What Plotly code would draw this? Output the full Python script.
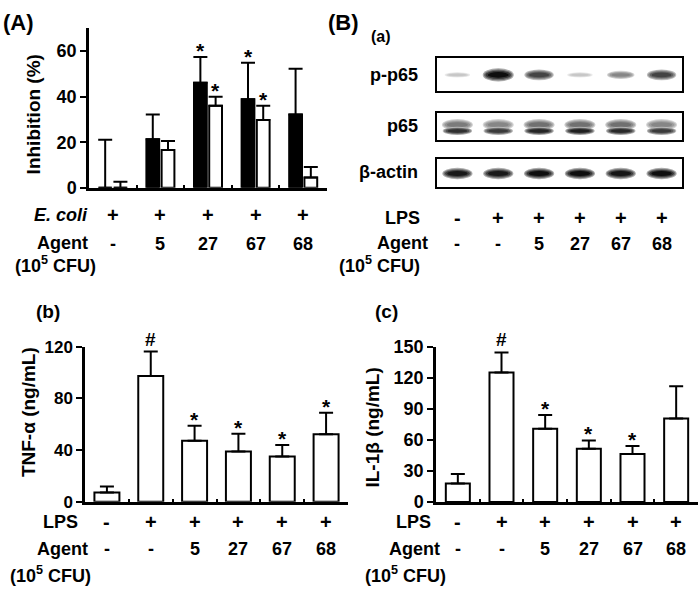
import plotly.graph_objects as go

# ---------------- DATA ----------------
# Panel A: inhibition (%)
agent_A = ["-", "5", "27", "67", "68"]
ecoli_A = ["+", "+", "+", "+", "+"]
inhib_black = [0, 21.3, 46.1, 38.9, 32.2]
inhib_black_err = [21.1, 10.9, 11.3, 16.0, 20.1]
inhib_white = [0, 16.6, 36.0, 29.8, 4.5]
inhib_white_err = [2.7, 4.0, 4.0, 6.2, 4.6]
sig_black = ["", "", "*", "*", ""]
sig_white = ["", "", "*", "*", ""]

# Panels B(b), B(c)
lps = ["-", "+", "+", "+", "+", "+"]
agent_B = ["-", "-", "5", "27", "67", "68"]
tnf = [7.0, 97.2, 47.1, 38.9, 34.9, 52.1]
tnf_err = [4.8, 19.0, 11.7, 13.7, 9.0, 16.7]
sig_tnf = ["", "#", "*", "*", "*", "*"]
il1b = [17.7, 125.0, 70.7, 51.3, 46.4, 80.6]
il1b_err = [9.3, 19.4, 13.3, 8.1, 7.7, 31.1]
sig_il1b = ["", "#", "*", "*", "*", ""]

# Panel B(a): western blot band intensities (0..1)
blot_rows = ["p-p65", "p65", "β-actin"]
pp65_level = [0.15, 1.0, 0.75, 0.15, 0.45, 0.75]
p65_upper_level = [0.5, 0.45, 0.55, 0.55, 0.55, 0.45]
p65_lower_level = [0.85, 0.8, 0.9, 0.92, 0.88, 0.8]
actin_level = [0.95, 0.95, 1.0, 1.0, 0.97, 1.0]

# ---------------- STYLE ----------------
FONT = "Liberation Sans, Arial, sans-serif"
W, H = 700, 597


def px(x):
    return x / W


def py(y):
    return 1 - y / H


fig = go.Figure()
ann = []
shapes = []


def text(x, y, s, size=18, xanchor="center", xref="paper", yref="paper",
         xshift=0, yshift=0, yanchor="middle", textangle=0):
    ann.append(dict(x=x, y=y, text=s, xref=xref, yref=yref, showarrow=False,
                    xanchor=xanchor, yanchor=yanchor, xshift=xshift, yshift=yshift,
                    textangle=textangle,
                    font=dict(family=FONT, size=size, color="black", weight="bold")))


def err(vals):
    return dict(type="data", symmetric=False, array=vals, arrayminus=[0] * len(vals),
                thickness=2, width=7, color="black")


# ---------- Panel A ----------
nA = len(agent_A)
xA = list(range(nA))
fig.add_trace(go.Bar(x=xA, y=inhib_black, marker=dict(color="black", line=dict(color="black", width=2)),
                     error_y=err(inhib_black_err), xaxis="x", yaxis="y", showlegend=False))
fig.add_trace(go.Bar(x=xA, y=inhib_white, marker=dict(color="white", line=dict(color="black", width=2)),
                     error_y=err(inhib_white_err), xaxis="x", yaxis="y", showlegend=False))
for i in range(nA):
    if sig_black[i]:
        text(i, inhib_black[i] + inhib_black_err[i], sig_black[i], size=21, xref="x", yref="y",
             xshift=-7.5, yanchor="bottom", yshift=-7)
    if sig_white[i]:
        text(i, inhib_white[i] + inhib_white_err[i], sig_white[i], size=21, xref="x", yref="y",
             xshift=7.5, yanchor="bottom", yshift=-7)
    text(i, py(212), ecoli_A[i], size=20, xref="x")
    text(i, py(242), agent_A[i], size=18, xref="x")

text(px(90), py(212), "<i>E. coli</i>", xanchor="right")
text(px(90), py(241), "Agent", xanchor="right")
text(px(13), py(263), "(10<sup>5</sup> CFU)", xanchor="left")
text(px(33), py(108), "Inhibition (%)", size=19, textangle=-90)
text(px(1), py(13), "(A)", xanchor="left", size=22)

# ---------- Panel B(b), B(c) ----------
nB = len(lps)
xB = list(range(nB))
fig.add_trace(go.Bar(x=xB, y=tnf, width=0.57, marker=dict(color="white", line=dict(color="black", width=2)),
                     error_y=err(tnf_err), xaxis="x2", yaxis="y2", showlegend=False))
fig.add_trace(go.Bar(x=xB, y=il1b, width=0.55, marker=dict(color="white", line=dict(color="black", width=2)),
                     error_y=err(il1b_err), xaxis="x3", yaxis="y3", showlegend=False))


def sig_mark(i, val, e, s, xr, yr):
    if s == "*":
        text(i, val + e, s, size=21, xref=xr, yref=yr, yanchor="bottom", yshift=-7)
    elif s:
        text(i, val + e, s, size=19, xref=xr, yref=yr, yanchor="bottom", yshift=0)


for i in range(nB):
    sig_mark(i, tnf[i], tnf_err[i], sig_tnf[i], "x2", "y2")
    sig_mark(i, il1b[i], il1b_err[i], sig_il1b[i], "x3", "y3")
    text(i, py(530), lps[i], size=20, xref="x2")
    text(i, py(558), agent_B[i], size=18, xref="x2")
    text(i, py(530), lps[i], size=20, xref="x3")
    text(i, py(558), agent_B[i], size=18, xref="x3")
    # blot treatment rows
    text(i + 1, py(215), lps[i], size=20, xref="x4")
    text(i + 1, py(242), agent_B[i], size=18, xref="x4")

text(px(80), py(530), "LPS", xanchor="right")
text(px(90), py(558), "Agent", xanchor="right")
text(px(8), py(584), "(10<sup>5</sup> CFU)", xanchor="left")
text(px(28), py(416), "TNF-α (ng/mL)", size=19, textangle=-90)
text(px(34), py(312), "(b)", xanchor="left", size=19)

text(px(433), py(530), "LPS", xanchor="right")
text(px(442), py(558), "Agent", xanchor="right")
text(px(363), py(584), "(10<sup>5</sup> CFU)", xanchor="left")
text(px(373), py(432), "IL-1β (ng/mL)", size=19, textangle=-90)
text(px(373), py(312), "(c)", xanchor="left", size=19)

text(px(422), py(215), "LPS", xanchor="right")
text(px(430), py(241), "Agent", xanchor="right")
text(px(337), py(263), "(10<sup>5</sup> CFU)", xanchor="left")
text(px(326), py(13), "(B)", xanchor="left", size=22)
text(px(369), py(27), "(a)", xanchor="left", size=16)

# ---------- Panel B(a): blot bands as soft ellipses ----------
lanes = list(range(1, len(pp65_level) + 1))


def band_color(v, lighten=0.0):
    g = 232 - 218 * v
    g = g + (255 - g) * lighten
    g = int(round(g))
    return f"rgb({g},{g},{g})"


def add_band(lane, level, yc, half_w, half_h, xr, yr):
    layers = [(1.0, 1.0, 0.65), (0.92, 0.8, 0.4), (0.82, 0.62, 0.18), (0.68, 0.42, 0.0)]
    for fw, fh, lt in layers:
        shapes.append(dict(type="circle", xref=xr, yref=yr, layer="below",
                           x0=lane - half_w * fw, x1=lane + half_w * fw,
                           y0=yc - half_h * fh, y1=yc + half_h * fh,
                           fillcolor=band_color(level, lt), line=dict(width=0)))


for lane, v in zip(lanes, pp65_level):
    add_band(lane, v, 0.0, 0.30 + 0.08 * v, 0.12 + 0.28 * v, "x4", "y4")
for lane, v in zip(lanes, p65_upper_level):
    add_band(lane, v, 0.15, 0.38, 0.42, "x5", "y5")
for lane, v in zip(lanes, p65_lower_level):
    add_band(lane, v, -0.3, 0.36, 0.3, "x5", "y5")
for lane, v in zip(lanes, actin_level):
    add_band(lane, v, -0.05, 0.37, 0.42, "x6", "y6")

text(px(420), py(67), blot_rows[0], xanchor="right")
text(px(420), py(120), blot_rows[1], xanchor="right")
text(px(420), py(168), blot_rows[2], xanchor="right")

# ---------------- LAYOUT ----------------


def xax(domain, n, anchor):
    return dict(domain=domain, anchor=anchor, range=[-0.5, n - 0.5], showgrid=False, zeroline=False,
                showline=True, linewidth=2.5, linecolor="black", tickmode="array",
                tickvals=[i + 0.5 for i in range(n)], ticks="inside", ticklen=3, tickwidth=2,
                tickcolor="black", showticklabels=False, fixedrange=True)


def yax(domain, rng, dtick, anchor, fsize):
    return dict(domain=domain, anchor=anchor, range=rng, showgrid=False, zeroline=False,
                showline=True, linewidth=2.5, linecolor="black", tickmode="linear", tick0=0,
                dtick=dtick, ticks="outside", ticklen=6, tickwidth=2, tickcolor="black",
                tickfont=dict(family=FONT, size=fsize, color="black", weight="bold"),
                fixedrange=True)


def blot_x(domain, anchor):
    return dict(domain=domain, anchor=anchor, range=[0.5, len(lanes) + 0.5], showgrid=False,
                zeroline=False, showline=True, mirror=True, linewidth=2, linecolor="black",
                showticklabels=False, ticks="", fixedrange=True)


def blot_y(domain, anchor):
    return dict(domain=domain, anchor=anchor, range=[-1, 1], showgrid=False, zeroline=False,
                showline=True, mirror=True, linewidth=2, linecolor="black",
                showticklabels=False, ticks="", fixedrange=True)


# placeholder traces so the blot axes are rendered
for k in (4, 5, 6):
    fig.add_trace(go.Scatter(x=[], y=[], xaxis=f"x{k}", yaxis=f"y{k}", showlegend=False))

fig.update_layout(
    width=W, height=H,
    margin=dict(l=0, r=0, t=0, b=0),
    paper_bgcolor="white", plot_bgcolor="rgba(0,0,0,0)",
    barmode="group", bargap=0.36, bargroupgap=0.16,
    showlegend=False,
    annotations=ann,
    shapes=shapes,
    xaxis=xax([px(89), px(327)], nA, "y"),
    yaxis=yax([py(184), py(19)], [0, 70], 20, "x", 18),
    xaxis2=xax([px(85), px(348)], nB, "y2"),
    yaxis2=yax([py(508.7), py(348.3)], [0, 120], 40, "x2", 17),
    xaxis3=xax([px(436), px(698)], nB, "y3"),
    yaxis3=yax([py(509), py(348.3)], [0, 150], 30, "x3", 18),
    xaxis4=blot_x([px(437), px(682)], "y4"),
    yaxis4=blot_y([py(84.3), py(50)], "x4"),
    xaxis5=blot_x([px(437), px(682)], "y5"),
    yaxis5=blot_y([py(135), py(106.7)], "x5"),
    xaxis6=blot_x([px(437), px(682)], "y6"),
    yaxis6=blot_y([py(182.7), py(154.3)], "x6"),
)

fig.write_html("out.html", config={"displayModeBar": False},
               post_script="document.body.style.margin='0';document.body.style.overflow='hidden';")
